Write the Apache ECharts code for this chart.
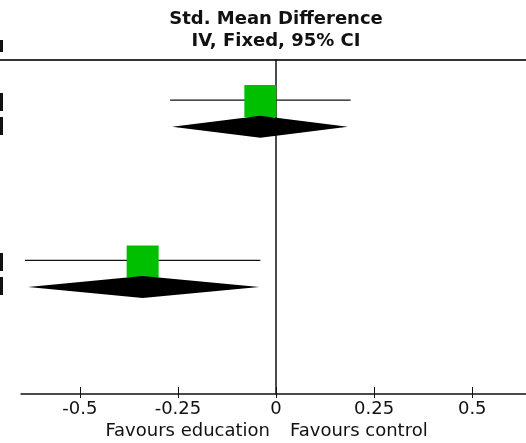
<!DOCTYPE html>
<html>
<head>
<meta charset="utf-8">
<script src="https://cdn.jsdelivr.net/npm/echarts@6/dist/echarts.min.js"></script>
<style>
  html, body { margin: 0; padding: 0; background: #fff; }
  #chart { width: 526px; height: 443px; }
</style>
</head>
<body>
<div id="chart"></div>
<script>
// study rows (one study per subgroup)
var studyRows = [1.5, 7.5];
var studyEst = [-0.04, -0.34];
var studyLow = [-0.27, -0.64];
var studyHigh = [0.19, -0.04];

// pooled (subgroup totals) diamonds
var totalRows = [2.5, 8.5];
var totalEst = [-0.04, -0.34];
var totalLow = [-0.265, -0.632];
var totalHigh = [0.183, -0.043];

var tickValues = [-0.5, -0.25, 0, 0.25, 0.5];

var studyData = studyRows.map(function (r, i) {
  return [studyEst[i], r, studyLow[i], studyHigh[i]];
});
var totalData = totalRows.map(function (r, i) {
  return [totalEst[i], r, totalLow[i], totalHigh[i]];
});

var chart = echarts.init(document.getElementById('chart'));
var font = 'DejaVu Sans';

chart.setOption({
  animation: false,
  grid: { left: 21, right: 0, top: 60, bottom: 49 },
  xAxis: [
    {
      type: 'value', min: -0.65, max: 0.637, position: 'bottom',
      axisLine: { show: true, onZero: false, lineStyle: { color: '#111', width: 1.5 } },
      axisTick: { show: true, inside: true, length: 7, customValues: tickValues,
        lineStyle: { color: '#111', width: 1 } },
      axisLabel: { customValues: tickValues, margin: 6, color: '#111',
        fontFamily: font, fontSize: 18 },
      splitLine: { show: false }
    },
    {
      type: 'value', min: -0.65, max: 0.637, position: 'bottom',
      axisLine: { show: false, onZero: false },
      axisTick: { show: true, length: 4, customValues: tickValues,
        lineStyle: { color: '#111', width: 1 } },
      axisLabel: { show: false },
      splitLine: { show: false }
    }
  ],
  yAxis: {
    type: 'value', inverse: true, min: 0, max: 12.5,
    axisLine: { show: true, onZero: true, lineStyle: { color: '#111', width: 1.5 } },
    axisTick: { show: false },
    axisLabel: { show: false },
    splitLine: { show: false }
  },
  graphic: [
    { type: 'text', style: { text: 'Std. Mean Difference', x: 276, y: 19,
        align: 'center', verticalAlign: 'middle', fill: '#111', font: 'bold 18px "DejaVu Sans"' } },
    { type: 'text', style: { text: 'IV, Fixed, 95% CI', x: 276, y: 41,
        align: 'center', verticalAlign: 'middle', fill: '#111', font: 'bold 18px "DejaVu Sans"' } },
    { type: 'line', shape: { x1: 0, y1: 60, x2: 526, y2: 60 },
      style: { stroke: '#333', lineWidth: 2 } },
    { type: 'text', style: { text: 'Favours education', x: 270, y: 431,
        align: 'right', verticalAlign: 'middle', fill: '#111', font: '18px "DejaVu Sans"' } },
    { type: 'text', style: { text: 'Favours control', x: 290, y: 431,
        align: 'left', verticalAlign: 'middle', fill: '#111', font: '18px "DejaVu Sans"' } },
    { type: 'rect', shape: { x: 0, y: 40, width: 3, height: 12 }, style: { fill: '#111' } },
    { type: 'rect', shape: { x: 0, y: 93, width: 3, height: 18 }, style: { fill: '#111' } },
    { type: 'rect', shape: { x: 0, y: 117, width: 3, height: 18 }, style: { fill: '#111' } },
    { type: 'rect', shape: { x: 0, y: 253, width: 3, height: 18 }, style: { fill: '#111' } },
    { type: 'rect', shape: { x: 0, y: 277, width: 3, height: 18 }, style: { fill: '#111' } }
  ],
  series: [
    {
      type: 'custom', name: 'Studies', data: studyData,
      encode: { x: 0, y: 1 },
      renderItem: function (params, api) {
        var row = api.value(1);
        var c = api.coord([api.value(0), row]);
        var lo = api.coord([api.value(2), row]);
        var hi = api.coord([api.value(3), row]);
        var s = 32;
        return {
          type: 'group',
          children: [
            { type: 'line', shape: { x1: lo[0], y1: lo[1], x2: hi[0], y2: hi[1] },
              style: { stroke: '#111', lineWidth: 1.2 } },
            { type: 'rect', shape: { x: c[0] - s / 2, y: c[1] - 15, width: s, height: s },
              style: { fill: '#00bf00' } }
          ]
        };
      }
    },
    {
      type: 'custom', name: 'Total', data: totalData,
      encode: { x: 0, y: 1 },
      renderItem: function (params, api) {
        var row = api.value(1);
        var c = api.coord([api.value(0), row]);
        var lo = api.coord([api.value(2), row]);
        var hi = api.coord([api.value(3), row]);
        var h = 11;
        return {
          type: 'polygon',
          shape: { points: [[lo[0], lo[1]], [c[0], c[1] - h], [hi[0], hi[1]], [c[0], c[1] + h]] },
          style: { fill: '#000' }
        };
      }
    }
  ]
});
</script>
</body>
</html>
